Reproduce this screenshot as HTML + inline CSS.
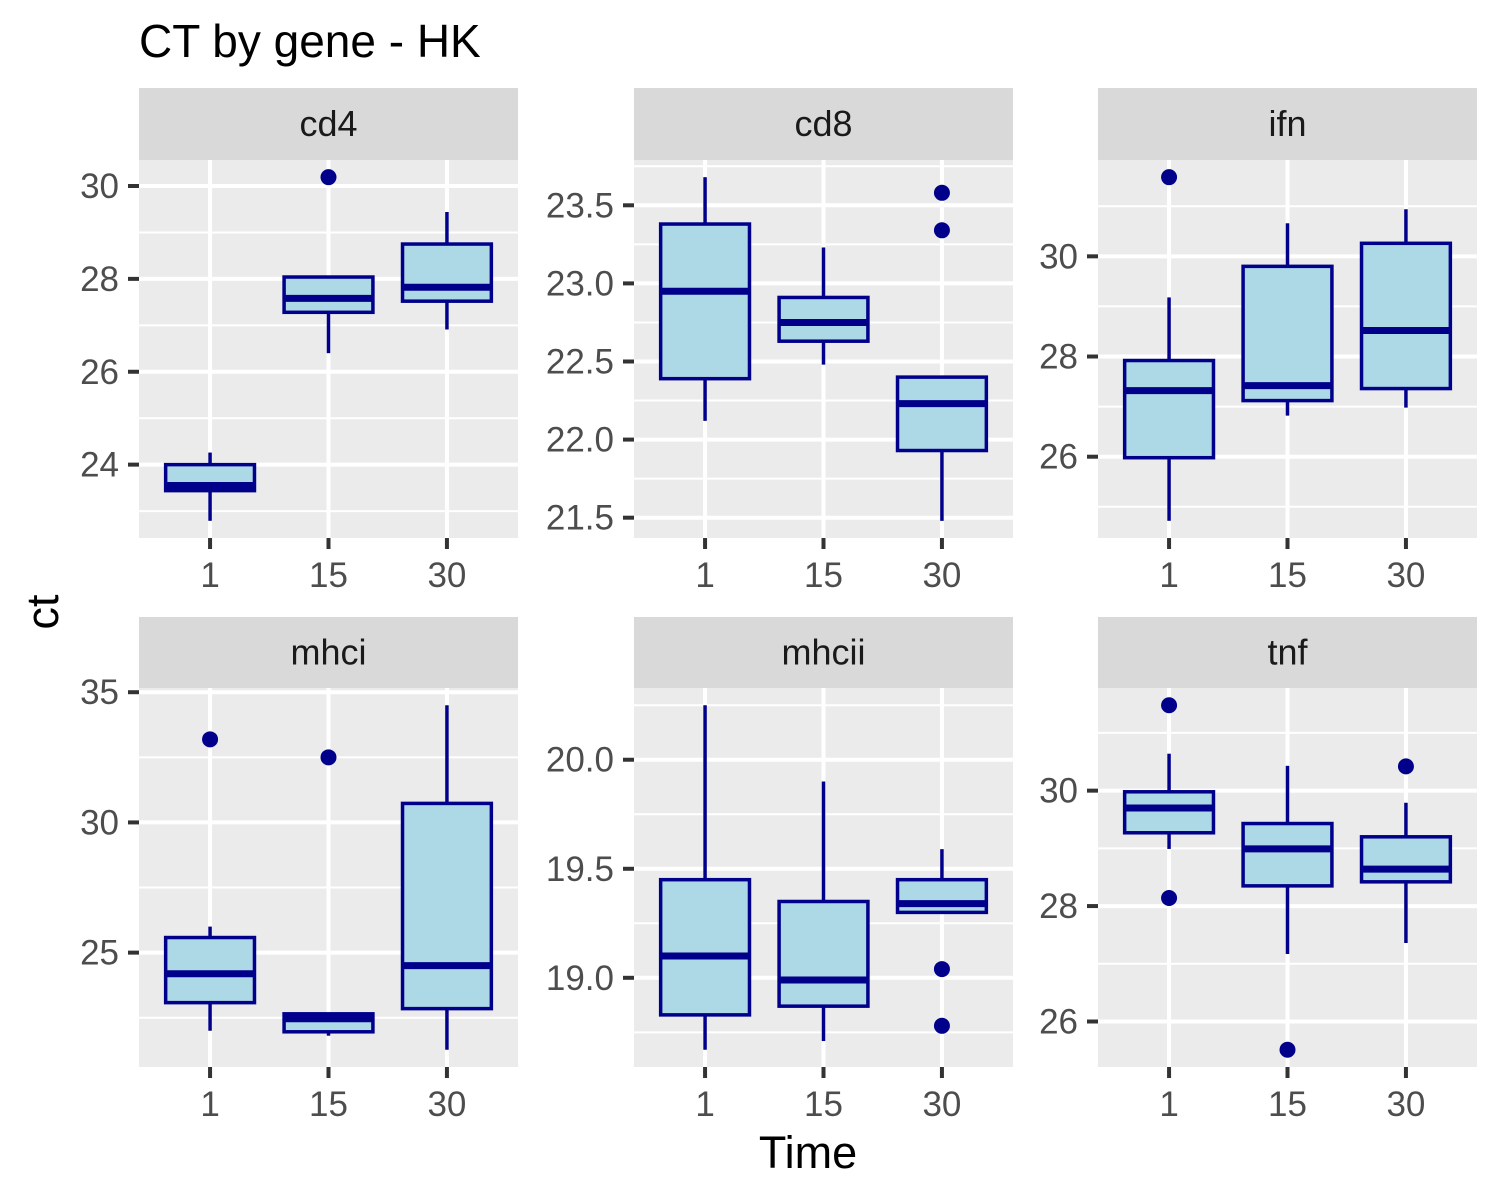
<!DOCTYPE html>
<html><head><meta charset="utf-8"><style>
html,body{margin:0;padding:0;background:#fff;}
svg{display:block;font-family:"Liberation Sans",Arial,sans-serif;}
</style></head><body>
<svg id="chart" width="1500" height="1200" viewBox="0 0 1500 1200">
<text x="139" y="57" font-size="46" fill="#000">CT by gene - HK</text>
<text x="808" y="1168" font-size="45" fill="#000" text-anchor="middle">Time</text>
<text transform="translate(58,612) rotate(-90)" font-size="45" fill="#000" text-anchor="middle">ct</text>
<g id="panels"></g>
</svg>
<script>
const categories = ["1","15","30"];
const genes = ["cd4","cd8","ifn","mhci","mhcii","tnf"];
// per gene, per time: [lowWhisker, q1, median, q3, highWhisker]
const cd4Stats = [[22.79,23.44,23.55,24.0,24.26],[26.4,27.28,27.58,28.04,28.04],[26.91,27.52,27.82,28.75,29.44]];
const cd8Stats = [[22.12,22.39,22.95,23.38,23.68],[22.48,22.63,22.75,22.91,23.23],[21.48,21.93,22.23,22.40,22.40]];
const ifnStats = [[24.72,25.98,27.32,27.92,29.18],[26.82,27.12,27.42,29.8,30.66],[26.98,27.36,28.52,30.26,30.94]];
const mhciStats = [[22.0,23.08,24.19,25.58,26.0],[21.81,21.96,22.46,22.65,22.65],[21.27,22.85,24.5,30.73,34.5]];
const mhciiStats = [[18.67,18.83,19.10,19.45,20.25],[18.71,18.87,18.99,19.35,19.9],[19.30,19.30,19.34,19.45,19.59]];
const tnfStats = [[28.99,29.27,29.70,29.98,30.64],[27.17,28.35,28.99,29.43,30.43],[27.36,28.42,28.64,29.2,29.79]];
// outliers per time
const cd4Out = [[],[30.19],[]];
const cd8Out = [[],[],[23.58,23.34]];
const ifnOut = [[31.58],[],[]];
const mhciOut = [[33.19],[32.5],[]];
const mhciiOut = [[],[],[19.04,18.78]];
const tnfOut = [[31.48,28.14],[25.51],[30.42]];
// tick labels
const cd4Ticks = ["24","26","28","30"];
const cd8Ticks = ["21.5","22.0","22.5","23.0","23.5"];
const ifnTicks = ["26","28","30"];
const mhciTicks = ["25","30","35"];
const mhciiTicks = ["19.0","19.5","20.0"];
const tnfTicks = ["26","28","30"];

const statsAll=[cd4Stats,cd8Stats,ifnStats,mhciStats,mhciiStats,tnfStats];
const outAll=[cd4Out,cd8Out,ifnOut,mhciOut,mhciiOut,tnfOut];
const ticksAll=[cd4Ticks,cd8Ticks,ifnTicks,mhciTicks,mhciiTicks,tnfTicks];
const colX=[139,634,1098], PW=379;
const rowY=[[88,160,538],[617,688,1067]];
const NS="http://www.w3.org/2000/svg";
const root=document.getElementById("panels");
function mk(tag,attrs,parent){const e=document.createElementNS(NS,tag);for(const k in attrs)e.setAttribute(k,attrs[k]);(parent||root).appendChild(e);return e;}

genes.forEach((g,gi)=>{
  const c=gi%3,r=Math.floor(gi/3);
  const x0=colX[c],[sy,py0,py1]=rowY[r];
  const grp=mk("g",{});
  
  
  const st=statsAll[gi],ou=outAll[gi],tk=ticksAll[gi];
  let mn=Infinity,mx=-Infinity;
  st.forEach(s=>{mn=Math.min(mn,s[0]);mx=Math.max(mx,s[4]);});
  ou.forEach(o=>o.forEach(v=>{mn=Math.min(mn,v);mx=Math.max(mx,v);}));
  const pad=(mx-mn)*0.05, lo=mn-pad, hi=mx+pad;
  const y=v=>py1-(v-lo)/(hi-lo)*(py1-py0);
  const unit=PW/3.2;
  const x=i=>x0+(i+1-0.4)*unit;
  mk("rect",{x:x0,y:sy,width:PW,height:py0-sy,fill:"#D9D9D9"},grp);
  const stt=mk("text",{x:x0+PW/2,y:(sy+py0)/2+12,"font-size":36,fill:"#1A1A1A","text-anchor":"middle"},grp);
  stt.textContent=g;
  
  
  mk("rect",{x:x0,y:py0,width:PW,height:py1-py0,fill:"#EBEBEB"},grp);
  const tv=tk.map(Number);
  const step=tv[1]-tv[0];
  for(let v=tv[0]-step/2;v<=hi;v+=step){ if(v>=lo){mk("line",{x1:x0,x2:x0+PW,y1:y(v),y2:y(v),stroke:"#fff","stroke-width":2},grp);} }
  tk.forEach((t,i)=>{
    const yy=y(tv[i]);
    mk("line",{x1:x0,x2:x0+PW,y1:yy,y2:yy,stroke:"#fff","stroke-width":4},grp);
    mk("line",{x1:x0-11,x2:x0,y1:yy,y2:yy,stroke:"#333","stroke-width":4},grp);
    const lt=mk("text",{x:x0-20,y:yy+12,"font-size":35,fill:"#4D4D4D","text-anchor":"end"},grp);
    lt.textContent=t;
    
    
  });
  categories.forEach((cat,i)=>{
    const xx=x(i);
    mk("line",{x1:xx,x2:xx,y1:py0,y2:py1,stroke:"#fff","stroke-width":4},grp);
    mk("line",{x1:xx,x2:xx,y1:py1,y2:py1+11,stroke:"#333","stroke-width":4},grp);
    const lt=mk("text",{x:xx,y:py1+49,"font-size":35,fill:"#4D4D4D","text-anchor":"middle"},grp);
    lt.textContent=cat;
    
    
  });
  st.forEach((s,i)=>{
    const xx=x(i),hw=unit*0.375;
    const b=mk("g",{},grp);
    
    
    mk("line",{x1:xx,x2:xx,y1:y(s[0]),y2:y(s[1]),stroke:"#00008B","stroke-width":3.5},b);
    mk("line",{x1:xx,x2:xx,y1:y(s[3]),y2:y(s[4]),stroke:"#00008B","stroke-width":3.5},b);
    mk("rect",{x:xx-hw,y:y(s[3]),width:2*hw,height:y(s[1])-y(s[3]),fill:"#ADD8E6",stroke:"#00008B","stroke-width":3.5},b);
    mk("line",{x1:xx-hw,x2:xx+hw,y1:y(s[2]),y2:y(s[2]),stroke:"#00008B","stroke-width":7},b);
    ou[i].forEach(v=>{
      const p=mk("circle",{cx:xx,cy:y(v),r:8,fill:"#00008B"},b);
      
      
    });
  });
});
</script>
</body></html>
